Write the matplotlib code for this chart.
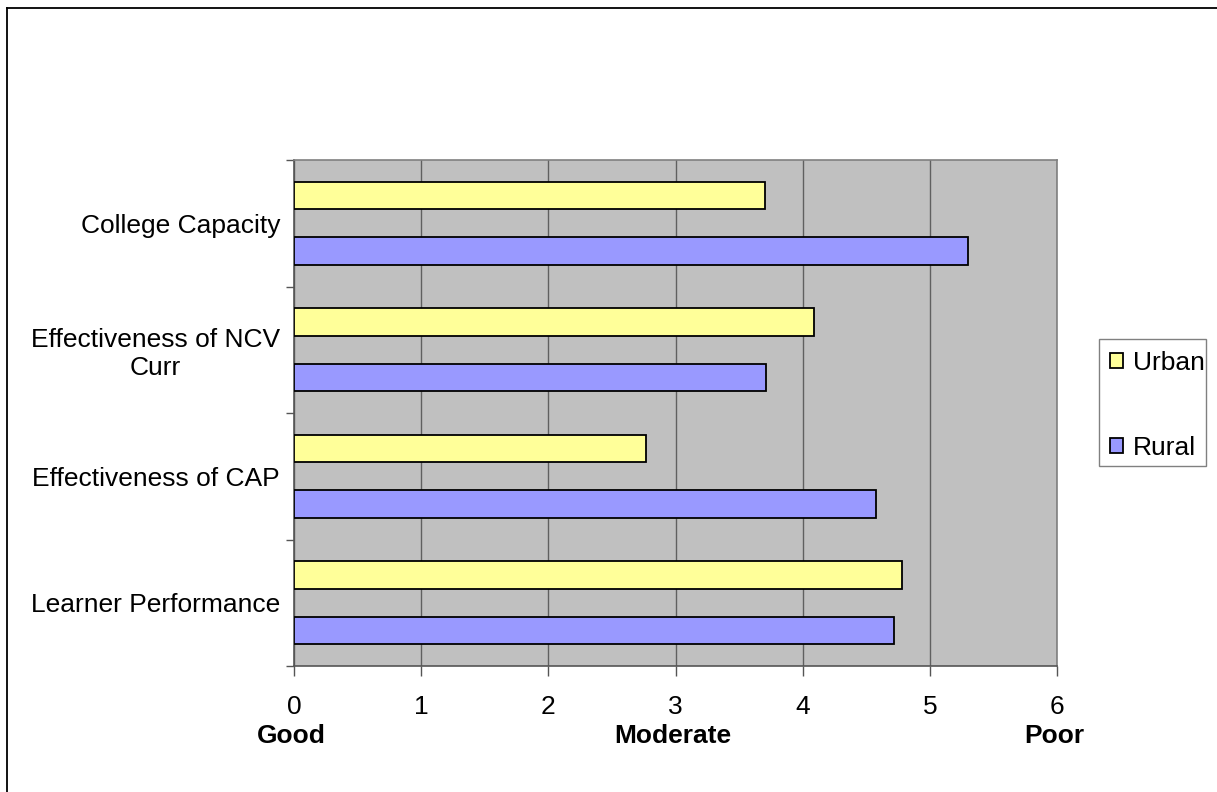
import matplotlib
matplotlib.use("Agg")
import matplotlib.pyplot as plt
import matplotlib.transforms as mtransforms
from matplotlib.lines import Line2D
from matplotlib.patches import Rectangle
import numpy as np

plt.rcParams['font.family'] = ['Liberation Sans', 'DejaVu Sans']

categories = ["College Capacity", "Effectiveness of NCV\nCurr", "Effectiveness of CAP", "Learner Performance"]
urban = [3.70, 4.09, 2.77, 4.78]
rural = [5.30, 3.71, 4.58, 4.72]
series_names = ["Urban", "Rural"]
x_ticks = [0, 1, 2, 3, 4, 5, 6]
scale_labels = {0: "Good", 3: "Moderate", 6: "Poor"}

W, H = 1217, 792
FS = 19
fig = plt.figure(figsize=(W / 100, H / 100), dpi=100)
fig.patch.set_facecolor("white")

# outer chart frame (top and left edges)
fig.add_artist(Line2D([7 / W, 1.0], [1 - 8 / H, 1 - 8 / H], transform=fig.transFigure, color="black", lw=1.3))
fig.add_artist(Line2D([7 / W, 7 / W], [0.0, 1 - 8 / H], transform=fig.transFigure, color="black", lw=1.3))

left, right, top, bottom = 294, 1057, 160, 666
ax = fig.add_axes([left / W, 1 - bottom / H, (right - left) / W, (bottom - top) / H])
ax.set_facecolor("#C0C0C0")

n = len(categories)
ypos = np.arange(n)
bar_h = 0.22
off = 0.22
ax.barh(ypos - off, urban, height=bar_h, color="#FFFF99", edgecolor="black", linewidth=1.3, label=series_names[0], zorder=3)
ax.barh(ypos + off, rural, height=bar_h, color="#9999FF", edgecolor="black", linewidth=1.3, label=series_names[1], zorder=3)

ax.set_xlim(0, 6)
ax.set_ylim(n - 0.5, -0.5)
ax.set_xticks(x_ticks)
ax.set_xticklabels([str(t) for t in x_ticks], fontsize=FS)
ax.tick_params(axis="x", direction="out", length=7, width=1, color="#555555", pad=14)

ax.set_yticks(ypos)
ax.set_yticklabels(categories, fontsize=FS, multialignment="center")
ax.tick_params(axis="y", which="major", length=0, pad=10)
ax.set_yticks(np.arange(n + 1) - 0.5, minor=True)
ax.tick_params(axis="y", which="minor", direction="out", length=6, width=1, color="#555555")

ax.grid(axis="x", color="#606060", linewidth=1.0, zorder=1)
ax.set_axisbelow(True)
for side in ["top", "right"]:
    ax.spines[side].set_color("#808080")
    ax.spines[side].set_linewidth(1.2)
for side in ["left", "bottom"]:
    ax.spines[side].set_color("#555555")
    ax.spines[side].set_linewidth(1.2)

trans = mtransforms.blended_transform_factory(ax.transData, fig.transFigure)
for v, txt in scale_labels.items():
    ax.text(v - 0.02, 1 - 736 / H, txt, transform=trans, ha="center", va="center",
            fontsize=FS, fontweight="bold")

# legend entries, with a tight frame drawn around them
leg = fig.legend(loc="upper left", bbox_to_anchor=(1110 / W, 1 - 351 / H), fontsize=FS,
                 frameon=False, handlelength=0.5, handleheight=0.5, handletextpad=0.38,
                 labelspacing=2.32, borderpad=0, borderaxespad=0)
fig.add_artist(Rectangle((1099 / W, 1 - 466 / H), 107 / W, 127 / H, transform=fig.transFigure,
                         facecolor="none", edgecolor="#808080", linewidth=1.0))

fig.savefig("out.png", dpi=100, facecolor="white")
